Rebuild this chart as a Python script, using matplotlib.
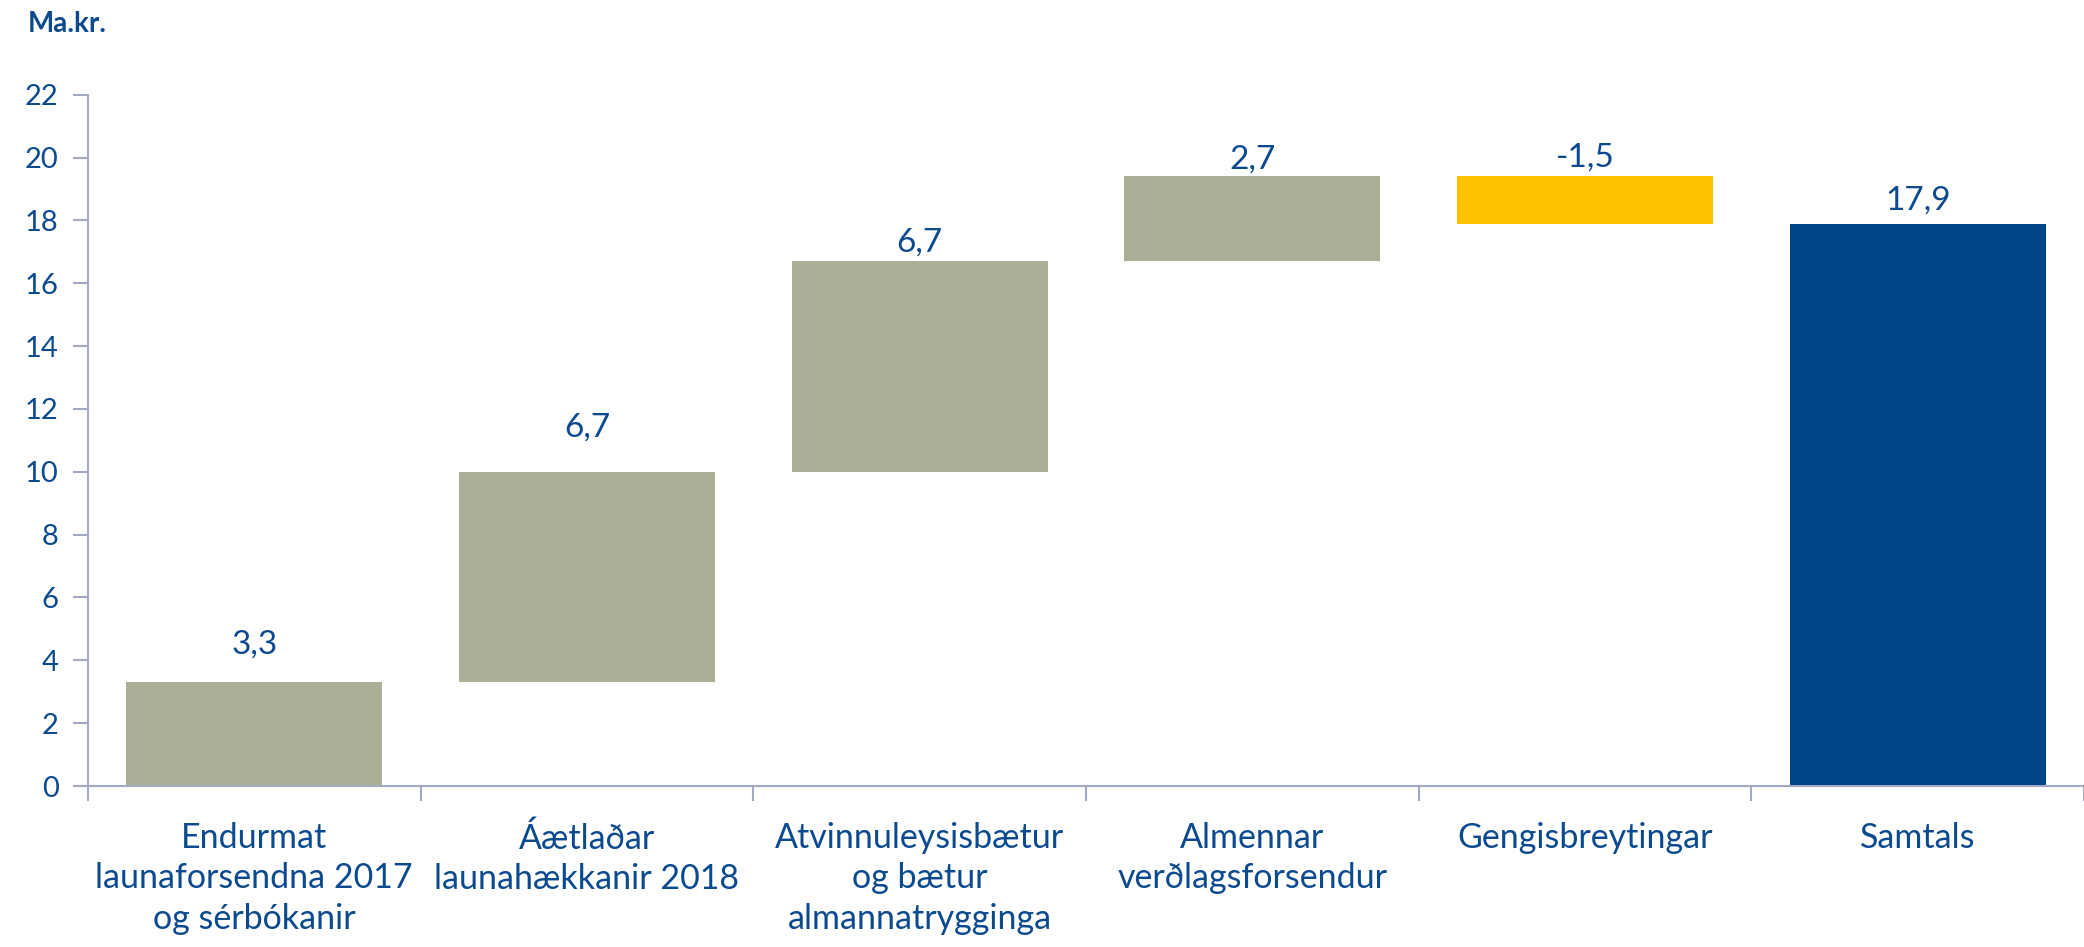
import numpy as np
import matplotlib
matplotlib.use("Agg")
import matplotlib.pyplot as plt

plt.rcParams['font.family'] = ['Lato', 'DejaVu Sans']

categories = ["Endurmat\nlaunaforsendna 2017\nog sérbókanir",
              "Áætlaðar\nlaunahækkanir 2018",
              "Atvinnuleysisbætur\nog bætur\nalmannatrygginga",
              "Almennar\nverðlagsforsendur",
              "Gengisbreytingar",
              "Samtals"]
changes = [3.3, 6.7, 6.7, 2.7, -1.5]
total = 17.9
value_labels = ["3,3", "6,7", "6,7", "2,7", "-1,5", "17,9"]
yticks = [0, 2, 4, 6, 8, 10, 12, 14, 16, 18, 20, 22]

# style
c_up = "#ABAF96"
c_down = "#FFC000"
c_total = "#00448A"
c_text = "#0B4A8F"
c_axis = "#A3A9C4"
label_pad = [0.92, 1.11, 0.32, 0.25, 0.32, 0.45]

fig = plt.figure(figsize=(20.84, 9.47), dpi=100)
ax = fig.add_axes([0.0422, 0.170, 0.9578, 0.7300])

ends = np.cumsum(changes)
starts = ends - np.array(changes)
x = np.arange(len(categories))
w = 0.77
for i, (s, e) in enumerate(zip(starts, ends)):
    lo, hi = min(s, e), max(s, e)
    col = c_up if e >= s else c_down
    ax.bar(x[i], hi - lo, bottom=lo, width=w, color=col, edgecolor="none")
ax.bar(x[-1], total, width=w, color=c_total, edgecolor="none")

tops = list(np.maximum(starts, ends)) + [total]
for i, t in enumerate(tops):
    ax.text(x[i], t + label_pad[i], value_labels[i], ha="center", va="baseline",
            fontsize=24, color=c_text)

ax.set_xlim(-0.5, len(categories) - 0.5)
ax.set_ylim(0, 22)
ax.set_yticks(yticks)
ax.set_yticklabels([str(v) for v in yticks], fontsize=21, color=c_text)
ax.set_xticks(x)
ax.set_xticklabels(categories, fontsize=24.5, color=c_text, linespacing=1.32)
ax.set_xticks(np.arange(len(categories) + 1) - 0.5, minor=True)
ax.tick_params(axis="x", which="major", length=0, pad=26)
ax.tick_params(axis="x", which="minor", length=11, color=c_axis, width=1.5)
ax.tick_params(axis="y", length=11, color=c_axis, width=1.5, pad=10)

for s in ["top", "right"]:
    ax.spines[s].set_visible(False)
for s in ["left", "bottom"]:
    ax.spines[s].set_color(c_axis)
    ax.spines[s].set_linewidth(1.5)

fig.text(0.0134, 0.988, "Ma.kr.", fontsize=20, fontweight="bold", color=c_text,
         ha="left", va="top")

fig.savefig("out.png", dpi=100)
